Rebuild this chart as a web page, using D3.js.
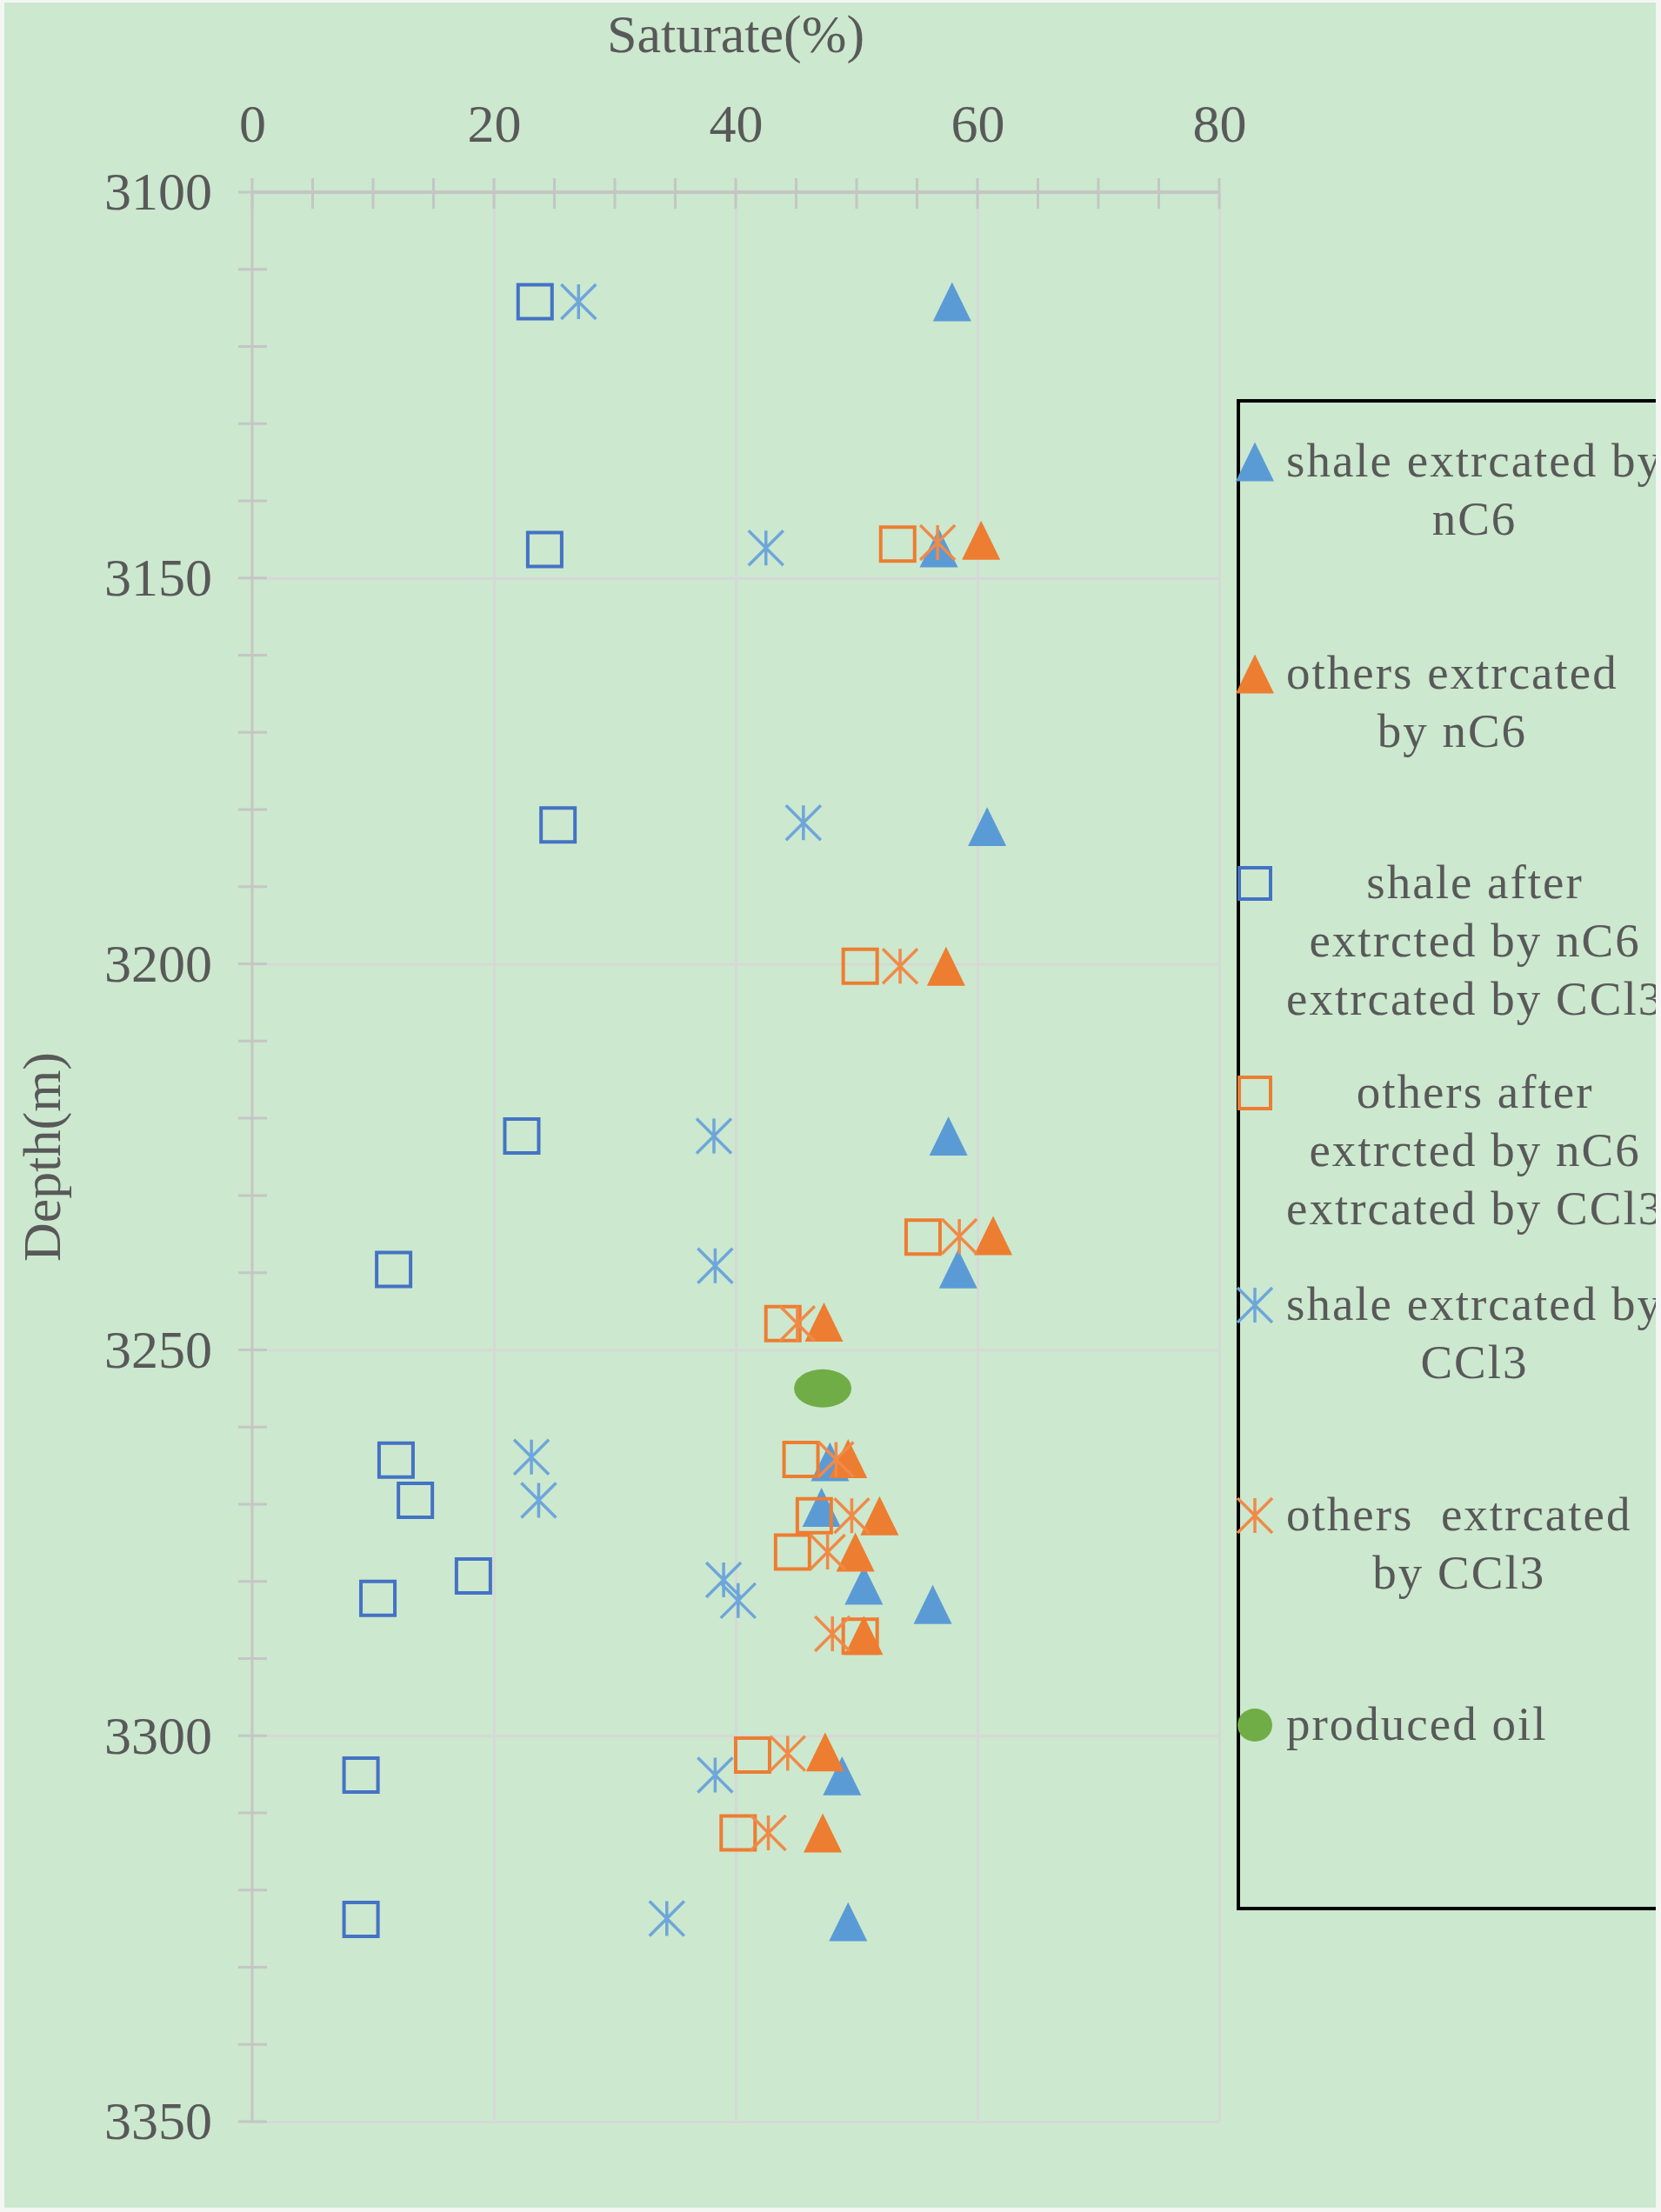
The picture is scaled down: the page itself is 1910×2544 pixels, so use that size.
<!DOCTYPE html>
<html>
<head>
<meta charset="utf-8">
<script src="https://cdn.jsdelivr.net/npm/d3@7"></script>
<style>
  body { margin: 0; background: #f3f6f3; }
  text { font-family: "Liberation Serif", "Times New Roman", serif; fill: #595959; }
</style>
</head>
<body>
<div id="chart"></div>
<script>
// ---- data (x = saturate %, y = depth m) ----
const shaleNC6Sat   = [57.9, 56.8, 60.8, 57.6, 58.4, 47.8, 47.1, 50.6, 56.3, 48.8, 49.3];
const shaleNC6Depth = [3114.2, 3146.1, 3182.2, 3222.3, 3239.5, 3264.5, 3270.4, 3280.5, 3283.0, 3305.2, 3324.1];

const othersNC6Sat   = [60.3, 57.4, 61.3, 47.3, 49.3, 51.9, 49.9, 50.6, 47.4, 47.2];
const othersNC6Depth = [3145.1, 3200.3, 3235.2, 3246.4, 3264.1, 3271.5, 3276.2, 3287.0, 3302.1, 3312.6];

const shaleAfterSat   = [23.4, 24.2, 25.3, 22.3, 11.7, 11.9, 13.5, 18.3, 10.4, 9.0, 9.0];
const shaleAfterDepth = [3114.2, 3146.3, 3182.0, 3222.3, 3239.6, 3264.3, 3269.5, 3279.3, 3282.2, 3305.1, 3323.8];

const othersAfterSat   = [53.4, 50.3, 55.5, 43.9, 45.4, 46.5, 44.7, 50.3, 41.4, 40.2];
const othersAfterDepth = [3145.6, 3200.3, 3235.4, 3246.6, 3264.2, 3271.5, 3276.2, 3287.1, 3302.5, 3312.6];

const shaleCCl3Sat   = [27.0, 42.5, 45.6, 38.2, 38.3, 23.1, 23.7, 39.0, 40.2, 38.3, 34.3];
const shaleCCl3Depth = [3114.2, 3146.1, 3181.7, 3222.3, 3239.1, 3263.9, 3269.5, 3279.8, 3282.5, 3305.1, 3323.7];

const othersCCl3Sat   = [56.7, 53.6, 58.5, 45.1, 48.3, 49.6, 47.6, 48.0, 44.3, 42.7];
const othersCCl3Depth = [3145.4, 3200.3, 3235.3, 3246.6, 3264.2, 3271.5, 3276.2, 3286.8, 3302.3, 3312.6];

const oilSat   = [47.2];
const oilDepth = [3255.0];

const xTicks = [0, 20, 40, 60, 80];
const yTicks = [3100, 3150, 3200, 3250, 3300, 3350];

const legendLabels = [
  ["shale extrcated by", "nC6"],
  ["others extrcated", "by nC6"],
  ["shale after", "extrcted by nC6", "extrcated by CCl3"],
  ["others after", "extrcted by nC6", "extrcated by CCl3"],
  ["shale extrcated by", "CCl3"],
  ["others  extrcated", "by CCl3"],
  ["produced oil"]
];

// ---- layout ----
const W = 1910, H = 2544;
const plotLeft = 290, plotRight = 1402, plotTop = 221, plotBottom = 2440;
const chartRight = 1904;

const svg = d3.select("#chart").append("svg")
  .attr("width", W)
  .attr("height", H);

svg.append("defs").append("clipPath")
  .attr("id", "chartClip")
  .append("rect")
  .attr("x", 0).attr("y", 0)
  .attr("width", chartRight).attr("height", H);

svg.append("rect")
  .attr("x", 5).attr("y", 3)
  .attr("width", chartRight - 5).attr("height", 2536)
  .attr("fill", "#cce8cf");

const x = d3.scaleLinear().domain([0, 80]).range([plotLeft, plotRight]);
const y = d3.scaleLinear().domain([3100, 3350]).range([plotTop, plotBottom]);

// gridlines
svg.append("g")
  .attr("transform", "translate(0," + plotTop + ")")
  .call(d3.axisTop(x).tickValues(xTicks.slice(1)).tickSize(-(plotBottom - plotTop)).tickFormat(""))
  .call(g => g.select(".domain").remove())
  .selectAll("line").attr("stroke", "#d6d9d6").attr("stroke-width", 3);

svg.append("g")
  .attr("transform", "translate(" + plotLeft + ",0)")
  .call(d3.axisLeft(y).tickValues(yTicks.slice(1)).tickSize(-(plotRight - plotLeft)).tickFormat(""))
  .call(g => g.select(".domain").remove())
  .selectAll("line").attr("stroke", "#d6d9d6").attr("stroke-width", 3);

// axis lines and crossing ticks
svg.append("line")
  .attr("x1", plotLeft).attr("x2", plotLeft).attr("y1", plotTop).attr("y2", plotBottom)
  .attr("stroke", "#c4c6c4").attr("stroke-width", 3);
svg.append("line")
  .attr("x1", plotLeft).attr("x2", plotRight).attr("y1", plotTop).attr("y2", plotTop)
  .attr("stroke", "#c4c6c4").attr("stroke-width", 4);

svg.append("g").selectAll("line")
  .data(d3.range(0, 81, 5))
  .join("line")
  .attr("x1", d => x(d)).attr("x2", d => x(d))
  .attr("y1", plotTop - 16).attr("y2", plotTop + 19)
  .attr("stroke", "#c4c6c4").attr("stroke-width", 3);

svg.append("g").selectAll("line")
  .data(d3.range(3100, 3351, 10))
  .join("line")
  .attr("x1", plotLeft - 16).attr("x2", plotLeft + 17)
  .attr("y1", d => y(d)).attr("y2", d => y(d))
  .attr("stroke", "#c4c6c4").attr("stroke-width", 3);

// tick labels
svg.append("g")
  .attr("transform", "translate(0," + plotTop + ")")
  .call(d3.axisTop(x).tickValues(xTicks).tickSize(0).tickPadding(58))
  .call(g => g.select(".domain").remove())
  .selectAll("text")
  .style("font-size", "62px")
  .style("font-family", "Liberation Serif")
  .attr("fill", "#595959");

svg.append("g")
  .attr("transform", "translate(" + plotLeft + ",0)")
  .call(d3.axisLeft(y).tickValues(yTicks).tickFormat(d3.format("d")).tickSize(0).tickPadding(46))
  .call(g => g.select(".domain").remove())
  .selectAll("text")
  .style("font-size", "62px")
  .style("font-family", "Liberation Serif")
  .attr("fill", "#595959");

// axis titles
svg.append("text")
  .attr("x", (plotLeft + plotRight) / 2).attr("y", 60)
  .attr("text-anchor", "middle")
  .style("font-size", "62px")
  .text("Saturate(%)");

svg.append("text")
  .attr("transform", "translate(69," + (plotTop + plotBottom) / 2 + ") rotate(-90)")
  .attr("text-anchor", "middle")
  .style("font-size", "62px")
  .text("Depth(m)");

// ---- marker shapes ----
const triangle = {
  draw(ctx, size) {
    const w = Math.sqrt(size), h = w * 1.02;
    ctx.moveTo(0, -h / 2);
    ctx.lineTo(w / 2, h / 2);
    ctx.lineTo(-w / 2, h / 2);
    ctx.closePath();
  }
};
const asterisk = {
  draw(ctx, size) {
    const r = Math.sqrt(size) / 2;
    ctx.moveTo(0, -r); ctx.lineTo(0, r);
    ctx.moveTo(-r, -r); ctx.lineTo(r, r);
    ctx.moveTo(r, -r); ctx.lineTo(-r, r);
  }
};
const square = {
  draw(ctx, size) {
    const r = Math.sqrt(size) / 2;
    ctx.rect(-r, -r, 2 * r, 2 * r);
  }
};

const series = [
  { sat: shaleNC6Sat,   depth: shaleNC6Depth,   type: triangle, size: 44 * 44, fill: "#5b9bd5", stroke: "none", sw: 0 },
  { sat: othersNC6Sat,  depth: othersNC6Depth,  type: triangle, size: 44 * 44, fill: "#ed7d31", stroke: "none", sw: 0 },
  { sat: shaleAfterSat, depth: shaleAfterDepth, type: square,   size: 39 * 39, fill: "none", stroke: "#4472c4", sw: 4 },
  { sat: othersAfterSat,depth: othersAfterDepth,type: square,   size: 39 * 39, fill: "none", stroke: "#ed7d31", sw: 4 },
  { sat: shaleCCl3Sat,  depth: shaleCCl3Depth,  type: asterisk, size: 40 * 40, fill: "none", stroke: "#6ea6da", sw: 3.5 },
  { sat: othersCCl3Sat, depth: othersCCl3Depth, type: asterisk, size: 40 * 40, fill: "none", stroke: "#f08a48", sw: 3.5 }
];

series.forEach(s => {
  svg.append("g").selectAll("path")
    .data(s.sat.map((v, i) => [v, s.depth[i]]))
    .join("path")
    .attr("transform", d => "translate(" + x(d[0]) + "," + y(d[1]) + ")")
    .attr("d", d3.symbol(s.type, s.size))
    .attr("fill", s.fill)
    .attr("stroke", s.stroke)
    .attr("stroke-width", s.sw);
});

svg.append("g").selectAll("ellipse")
  .data(oilSat.map((v, i) => [v, oilDepth[i]]))
  .join("ellipse")
  .attr("cx", d => x(d[0])).attr("cy", d => y(d[1]))
  .attr("rx", 33).attr("ry", 22)
  .attr("fill", "#70ad47");

// ---- legend (runs off the right edge of the chart, so it is clipped) ----
const legendY = [531, 775, 1016, 1257, 1501, 1743, 1984];
const legend = svg.append("g").attr("clip-path", "url(#chartClip)");

legend.append("rect")
  .attr("x", 1424).attr("y", 461)
  .attr("width", 800).attr("height", 2195 - 461)
  .attr("fill", "none")
  .attr("stroke", "#000").attr("stroke-width", 4);

series.forEach((s, i) => {
  legend.append("path")
    .attr("transform", "translate(1443," + legendY[i] + ")")
    .attr("d", d3.symbol(s.type, s.type === square ? 36 * 36 : s.size))
    .attr("fill", s.fill)
    .attr("stroke", s.stroke)
    .attr("stroke-width", s.sw);
});
legend.append("ellipse")
  .attr("cx", 1443).attr("cy", legendY[6])
  .attr("rx", 20).attr("ry", 19)
  .attr("fill", "#70ad47");

const textX = 1479;
legendLabels.forEach((lines, i) => {
  const g = legend.append("g");
  const texts = g.selectAll("text")
    .data(lines)
    .join("text")
    .attr("y", (d, j) => legendY[i] + 17 + j * 67)
    .style("font-size", "55px")
    .style("letter-spacing", "2px")
    .style("white-space", "pre")
    .text(d => d);
  let maxW = 0;
  texts.each(function () { maxW = Math.max(maxW, this.getComputedTextLength()); });
  texts.attr("x", textX + maxW / 2).attr("text-anchor", "middle");
});
</script>
</body>
</html>
